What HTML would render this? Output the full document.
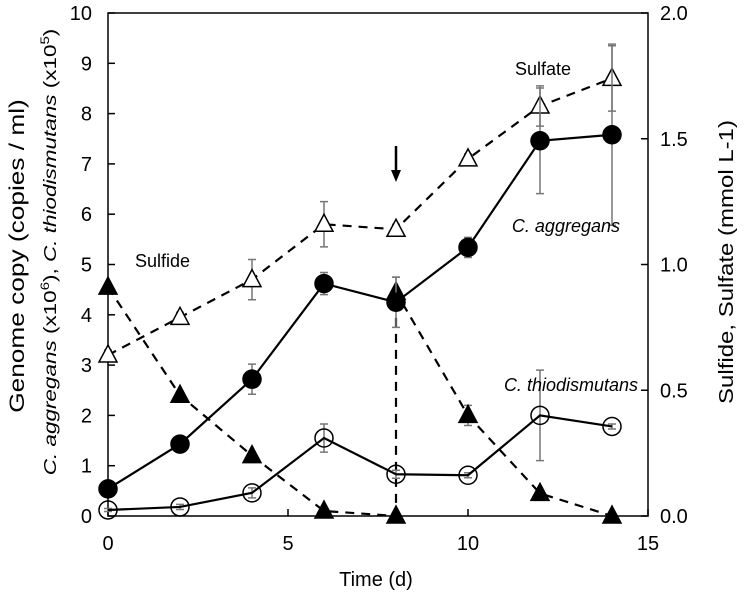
<!DOCTYPE html>
<html><head><meta charset="utf-8"><style>
body{margin:0;background:#fff;}
svg{display:block;font-family:"Liberation Sans",Arial,sans-serif;}
</style></head><body>
<svg id="chart" width="750" height="601">
</svg>
<script>
const days=[0,2,4,6,8,10,12,14];
const aggregans=[0.54,1.43,2.72,4.62,4.25,5.34,7.46,7.58];
const aggErr=[0.05,0.05,0.3,0.22,0.5,0.2,1.05,1.8];
const thio=[0.12,0.18,0.46,1.55,0.83,0.81,2.0,1.78];
const thioErr=[0.03,0.05,0.1,0.28,0.08,0.05,0.9,0.05];
const sulfate=[0.64,0.79,0.94,1.16,1.14,1.42,1.63,1.74];
const sulfateErr=[0.02,0.02,0.08,0.09,0.02,0.02,0.08,0.13];
const sulfideA=[0.91,0.48,0.24,0.02,0.0];
const sulfideADays=[0,2,4,6,8];
const sulfideB=[0.89,0.40,0.09,0.0];
const sulfideBDays=[8,10,12,14];
const sulfideBErr=[0.06,0.04,0.01,0.01];
const xTicks=[0,5,10,15];
const yTicks=[0,1,2,3,4,5,6,7,8,9,10];
const y2Ticks=["0.0","0.5","1.0","1.5","2.0"];

const L=108,R=648,T=13,B=516;
const X=v=>L+(R-L)*v/15;
const Y=v=>B-(B-T)*v/10;
const Y2=v=>B-(B-T)*v/2;
const svg=document.getElementById('chart');
const NS='http://www.w3.org/2000/svg';
function mk(tag,attrs,parent){const e=document.createElementNS(NS,tag);for(const k in attrs)e.setAttribute(k,attrs[k]);(parent||svg).appendChild(e);return e;}

const fr=mk('rect',{x:L,y:T,width:R-L,height:B-T,fill:'none',stroke:'#000','stroke-width':1.5});


yTicks.forEach(v=>{
  const t=mk('line',{x1:L,x2:L+7,y1:Y(v),y2:Y(v),stroke:'#000','stroke-width':1.5});
  
  
  const l=mk('text',{x:L-16,y:Y(v)+7,'text-anchor':'end','font-size':20});l.textContent=v;
  
  
});
y2Ticks.forEach(s=>{
  const v=parseFloat(s);
  const t=mk('line',{x1:R-7,x2:R,y1:Y2(v),y2:Y2(v),stroke:'#000','stroke-width':1.5});
  
  
  const l=mk('text',{x:R+12,y:Y2(v)+7,'font-size':20});l.textContent=s;
  
  
});
xTicks.forEach(v=>{
  const t=mk('line',{x1:X(v),x2:X(v),y1:B,y2:B-7,stroke:'#000','stroke-width':1.5});
  
  
  const l=mk('text',{x:X(v),y:B+34,'text-anchor':'middle','font-size':20});l.textContent=v;
  
  
});

function errs(xs,ys,es,yf,name){
  xs.forEach((d,i)=>{
    const x=X(d),y1=yf(ys[i]+es[i]),y2=yf(Math.max(0,ys[i]-es[i]));
    const g=mk('path',{d:`M${x},${y1}V${y2}M${x-4},${y1}H${x+4}M${x-4},${y2}H${x+4}`,stroke:'#777','stroke-width':1.5,fill:'none'});
    
    
  });
}
function line(xs,ys,yf,dash,name){
  const p=mk('polyline',{points:xs.map((d,i)=>X(d)+','+yf(ys[i])).join(' '),fill:'none',stroke:'#000','stroke-width':2.2,'stroke-dasharray':dash||''});
  
  
}
function circles(xs,ys,fill,name){
  xs.forEach((d,i)=>{
    const c=mk('circle',{cx:X(d),cy:Y(ys[i]),r:9,fill:fill,stroke:'#000','stroke-width':1.5});
    
    
  });
}
function tris(xs,ys,fill,name){
  xs.forEach((d,i)=>{
    const x=X(d),y=Y2(ys[i]);
    const t=mk('polygon',{points:`${x},${y-10} ${x-9},${y+7} ${x+9},${y+7}`,fill:fill,stroke:'#000','stroke-width':1.5});
    
    
  });
}
errs(days,sulfate,sulfateErr,Y2,'sulfate');
line(days,sulfate,Y2,'9,7','sulfate');
tris(days,sulfate,'#fff','sulfate');

errs(sulfideBDays,sulfideB,sulfideBErr,Y2,'sulfide');
line(sulfideADays.concat(sulfideBDays),sulfideA.concat(sulfideB),Y2,'9,7','sulfide');
tris(sulfideADays,sulfideA,'#000','sulfide');
tris(sulfideBDays,sulfideB,'#000','sulfide');

errs(days,thio,thioErr,Y,'thiodismutans');
line(days,thio,Y,'','thiodismutans');
circles(days,thio,'none','thiodismutans');

errs(days,aggregans,aggErr,Y,'aggregans');
line(days,aggregans,Y,'','aggregans');
circles(days,aggregans,'#000','aggregans');

const ax=X(8);
const ar=mk('path',{d:`M${ax},146V172`,stroke:'#000','stroke-width':2.5});


const ah=mk('polygon',{points:`${ax-5},170 ${ax+5},170 ${ax},182`,fill:'#000'});


</script>
<svg width="750" height="601" style="position:absolute;left:0;top:0;font-family:'Liberation Sans',Arial,sans-serif;">
<text x="543" y="75" text-anchor="middle" font-size="18">Sulfate</text>
<text x="620" y="232" text-anchor="end" font-size="18" font-style="italic">C. aggregans</text>
<text x="135" y="267" font-size="18">Sulfide</text>
<text x="638" y="391" text-anchor="end" font-size="18" font-style="italic">C. thiodismutans</text>
<text x="376" y="586" text-anchor="middle" font-size="20">Time (d)</text>
<text transform="translate(24,256) scale(1,1.25) rotate(-90)" text-anchor="middle" font-size="21">Genome copy (copies / ml)</text>
<text transform="translate(56,252) scale(1,1.25) rotate(-90)" text-anchor="middle" font-size="18"><tspan font-style="italic">C. aggregans</tspan> (x10<tspan font-size="12" dy="-7">6</tspan><tspan dy="7">), </tspan><tspan font-style="italic">C. thiodismutans</tspan> (x10<tspan font-size="12" dy="-7">5</tspan><tspan dy="7">)</tspan></text>
<text transform="translate(733,262) scale(1,1.2) rotate(-90)" text-anchor="middle" font-size="20">Sulfide, Sulfate (mmol L-1)</text>
</svg>
</body></html>
